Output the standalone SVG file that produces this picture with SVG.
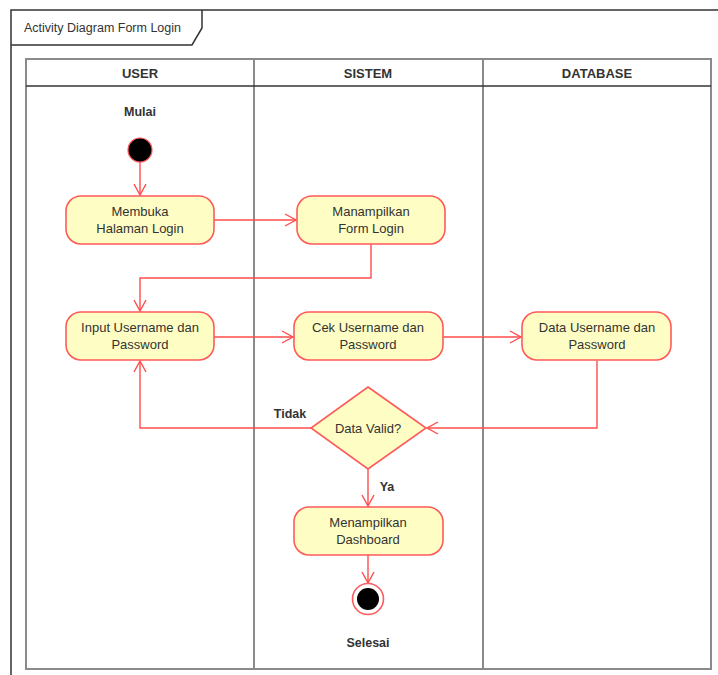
<svg xmlns="http://www.w3.org/2000/svg" width="718" height="675" viewBox="0 0 718 675">
  <style>
    .frame { fill: none; stroke: #333; stroke-width: 1.5; }
    .lane { fill: none; stroke: #8a8a8a; stroke-width: 2; }
    .hdr { fill: none; stroke: #333; stroke-width: 1.5; }
    .act { fill: #fefec4; stroke: #ff5a5a; stroke-width: 1.6; }
    .edge { fill: none; stroke: #ff4d4d; stroke-width: 1.4; }
    text { font-family: "Liberation Sans", Arial, sans-serif; fill: #333; }
    .t { font-size: 13px; text-anchor: middle; }
    .b { font-size: 12.5px; font-weight: bold; text-anchor: middle; }
    .h { font-size: 13px; font-weight: bold; text-anchor: middle; }
  </style>
  <defs>
    <marker id="arrow" markerWidth="14" markerHeight="14" refX="12" refY="7" orient="auto" markerUnits="userSpaceOnUse">
      <path d="M1,1 L12,7 L1,13" fill="none" stroke="#ff4d4d" stroke-width="1.4"/>
    </marker>
  </defs>

  <rect width="718" height="675" fill="#ffffff"/>

  <!-- outer frame with name tab -->
  <g id="frame">
    <path class="frame" d="M11,675 L11,10 L718,10"/>
    <path class="frame" d="M11,45 L192,45 L202,28 L202,10"/>
    <text x="24" y="32" style="font-size:12.5px">Activity Diagram Form Login</text>
  </g>

  <!-- swimlanes -->
  <g id="lanes">
    <rect class="lane" x="26" y="59" width="685" height="610"/>
    <line class="lane" x1="254" y1="59" x2="254" y2="669"/>
    <line class="lane" x1="483" y1="59" x2="483" y2="669"/>
    <line class="hdr" x1="26" y1="86" x2="711" y2="86"/>
    <text class="h" x="140" y="78">USER</text>
    <text class="h" x="368" y="78">SISTEM</text>
    <text class="h" x="597" y="78">DATABASE</text>
  </g>

  <!-- connectors -->
  <g id="connectors">
    <line class="edge" x1="140" y1="162" x2="140" y2="195" marker-end="url(#arrow)"/>
    <line class="edge" x1="214" y1="220" x2="296" y2="220" marker-end="url(#arrow)"/>
    <path class="edge" d="M371,244 L371,278 L140,278 L140,311" marker-end="url(#arrow)"/>
    <line class="edge" x1="214" y1="337" x2="293" y2="337" marker-end="url(#arrow)"/>
    <line class="edge" x1="443" y1="337" x2="521" y2="337" marker-end="url(#arrow)"/>
    <path class="edge" d="M597,361 L597,428 L427,428" marker-end="url(#arrow)"/>
    <path class="edge" d="M311,428 L140,428 L140,361" marker-end="url(#arrow)"/>
    <line class="edge" x1="368" y1="469" x2="368" y2="506" marker-end="url(#arrow)"/>
    <line class="edge" x1="368" y1="555" x2="368" y2="583" marker-end="url(#arrow)"/>
    <text class="b" x="290" y="418">Tidak</text>
    <text class="b" x="387" y="491">Ya</text>
  </g>

  <!-- nodes -->
  <g id="start">
    <text class="b" x="140" y="116">Mulai</text>
    <circle cx="140" cy="150" r="12" fill="#000" stroke="#ff5a5a" stroke-width="1.2"/>
  </g>

  <g id="membuka-halaman-login">
    <rect class="act" x="66" y="196" width="148" height="48" rx="15"/>
    <text class="t" x="140" y="216">Membuka</text>
    <text class="t" x="140" y="233">Halaman Login</text>
  </g>

  <g id="menampilkan-form-login">
    <rect class="act" x="297" y="196" width="148" height="48" rx="15"/>
    <text class="t" x="371" y="216">Manampilkan</text>
    <text class="t" x="371" y="233">Form Login</text>
  </g>

  <g id="input-username-password">
    <rect class="act" x="66" y="312" width="148" height="48" rx="15"/>
    <text class="t" x="140" y="332">Input Username dan</text>
    <text class="t" x="140" y="349">Password</text>
  </g>

  <g id="cek-username-password">
    <rect class="act" x="294" y="312" width="149" height="48" rx="15"/>
    <text class="t" x="368" y="332">Cek Username dan</text>
    <text class="t" x="368" y="349">Password</text>
  </g>

  <g id="data-username-password">
    <rect class="act" x="522" y="312" width="149" height="48" rx="15"/>
    <text class="t" x="597" y="332">Data Username dan</text>
    <text class="t" x="597" y="349">Password</text>
  </g>

  <g id="data-valid">
    <polygon class="act" points="368,387 426,428 368,469 311,428"/>
    <text class="t" x="368" y="433">Data Valid?</text>
  </g>

  <g id="menampilkan-dashboard">
    <rect class="act" x="294" y="507" width="149" height="48" rx="15"/>
    <text class="t" x="368" y="527">Menampilkan</text>
    <text class="t" x="368" y="544">Dashboard</text>
  </g>

  <g id="end">
    <circle cx="368" cy="599" r="15.5" fill="#fff" stroke="#ff5a5a" stroke-width="1.6"/>
    <circle cx="368" cy="599" r="11" fill="#000"/>
    <text class="b" x="368" y="647">Selesai</text>
  </g>
</svg>
